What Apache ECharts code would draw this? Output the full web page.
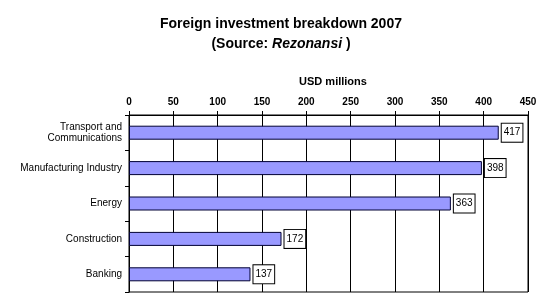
<!DOCTYPE html>
<html><head><meta charset="utf-8">
<script src="https://cdn.jsdelivr.net/npm/echarts@6/dist/echarts.min.js"></script>
<style>html,body{margin:0;padding:0;background:#fff}#c{width:553px;height:306px}</style>
</head><body><div id="c"></div>
<script>
const categories = ['Transport and\nCommunications', 'Manufacturing Industry', 'Energy', 'Construction', 'Banking'];
const values = [417, 398, 363, 172, 137];
const tickMin = 0, tickMax = 450, tickStep = 50;

const F = 'Liberation Sans, Arial, sans-serif';
const chart = echarts.init(document.getElementById('c'), null, {renderer: 'canvas'});
chart.setOption({
  animation: false,
  backgroundColor: '#fff',
  title: [{
    text: 'Foreign investment breakdown 2007',
    left: 276, top: 12, textAlign: 'center',
    textStyle: {fontFamily: F, fontSize: 14, fontWeight: 'bold', color: '#000'}
  }, {
    text: '{a|(Source: }{b|Rezonansi}{a| )}',
    left: 276, top: 32, textAlign: 'center',
    textStyle: {rich: {
      a: {fontFamily: F, fontSize: 14, fontWeight: 'bold', color: '#000'},
      b: {fontFamily: F, fontSize: 14, fontWeight: 'bold', fontStyle: 'italic', color: '#000'}
    }}
  }, {
    text: 'USD millions',
    left: 328, top: 71, textAlign: 'center',
    textStyle: {fontFamily: F, fontSize: 11, fontWeight: 'bold', color: '#000'}
  }],
  grid: {left: 129, right: 25, top: 115, bottom: 14, show: true, borderColor: '#000', borderWidth: 1, backgroundColor: 'transparent'},
  xAxis: {
    type: 'value', position: 'top', min: tickMin, max: tickMax, interval: tickStep,
    axisLine: {show: true, lineStyle: {color: '#000'}},
    axisTick: {show: true, length: 4, lineStyle: {color: '#000'}},
    axisLabel: {fontFamily: F, fontSize: 10, fontWeight: 'bold', color: '#000', margin: 8},
    splitLine: {show: true, lineStyle: {color: '#000', width: 1}}
  },
  yAxis: {
    type: 'category', data: categories, inverse: true,
    axisLine: {show: true, lineStyle: {color: '#000'}},
    axisTick: {show: true, length: 4, lineStyle: {color: '#000'}},
    axisLabel: {fontFamily: F, fontSize: 10, color: '#000', margin: 7, lineHeight: 11}
  },
  series: [{
    type: 'bar', data: values, barWidth: 14,
    itemStyle: {color: '#9999FF', borderColor: '#000033', borderWidth: 1},
    label: {
      show: true, position: 'right', distance: 3,
      fontFamily: F, fontSize: 10, color: '#000',
      backgroundColor: '#fff', borderColor: '#000', borderWidth: 1,
      padding: [4, 2, 4, 2]
    }
  }]
});
</script></body></html>
